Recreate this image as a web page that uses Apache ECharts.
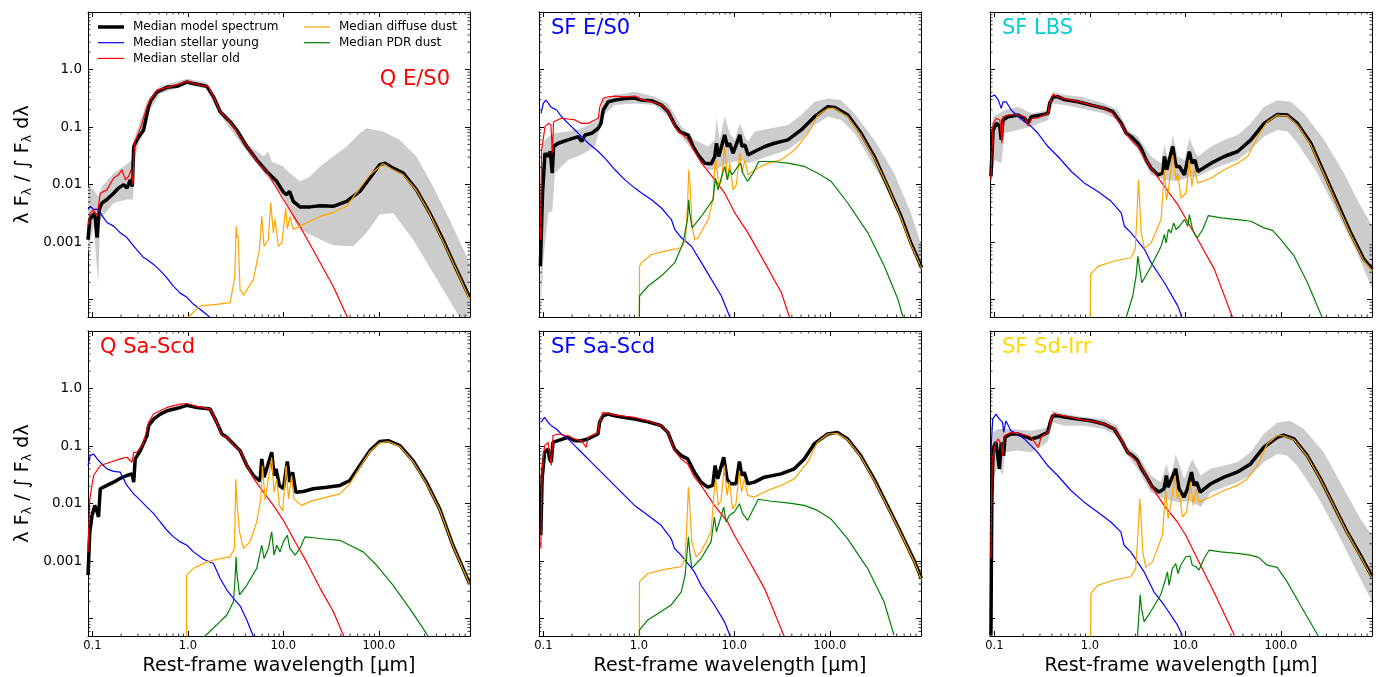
<!DOCTYPE html>
<html><head><meta charset="utf-8">
<script src="https://cdn.jsdelivr.net/npm/echarts@6/dist/echarts.min.js"></script>
<style>html,body{margin:0;padding:0;background:#fff}#c{width:1381px;height:677px}</style>
</head><body><div id="c"></div>
<script>
// ---------------- DATA (rest-frame wavelength [µm], λFλ / ∫Fλ dλ) ----------------
const panelTitles = ['Q E/S0', 'SF E/S0', 'SF LBS', 'Q Sa-Scd', 'SF Sa-Scd', 'SF Sd-Irr'];
const seriesNames = ['Median model spectrum', 'Median stellar young', 'Median stellar old', 'Median diffuse dust', 'Median PDR dust'];
const xTickVals = [0.1, 1, 10, 100];
const xTickText = ['0.1', '1.0', '10.0', '100.0'];
const yTickVals = [1, 0.1, 0.01, 0.001];
const yTickText = ['1.0', '0.1', '0.01', '0.001'];

// Panel 1: Q E/S0
const p1Model = [[0.090,0.0011],[0.094,0.0025],[0.0993,0.0028],[0.106,0.0032],[0.112,0.0012],[0.118,0.0037],[0.126,0.0048],[0.142,0.0055],[0.167,0.0071],[0.188,0.0087],[0.213,0.0100],[0.230,0.0087],[0.250,0.0121],[0.262,0.0093],[0.271,0.046],[0.293,0.060],[0.344,0.089],[0.388,0.226],[0.411,0.294],[0.475,0.41],[0.604,0.49],[0.768,0.51],[0.977,0.61],[1.146,0.57],[1.58,0.51],[1.855,0.336],[2.18,0.185],[2.36,0.162],[2.77,0.124],[3.25,0.089],[4.14,0.046],[5.26,0.027],[6.69,0.0169],[8.52,0.0114],[10,0.0074],[10.8,0.0067],[11.6,0.0076],[12.7,0.0051],[14.9,0.0041],[19.0,0.0041],[24.2,0.0043],[33.3,0.0042],[45.9,0.0051],[63.2,0.0076],[80.5,0.013],[102,0.0221],[116,0.0236],[141,0.0193],[180,0.0158],[248,0.0081],[341,0.0032],[469,0.0011],[647,0.00034],[890,0.00011]];
const p1Young = [[0.090,0.0037],[0.095,0.0042],[0.103,0.0037],[0.112,0.0037],[0.121,0.0032],[0.142,0.0022],[0.167,0.0019],[0.196,0.00145],[0.230,0.0012],[0.271,0.00085],[0.344,0.00054],[0.373,0.0005],[0.438,0.00041],[0.514,0.00032],[0.604,0.00024],[0.708,0.00017],[0.832,0.00013],[0.977,0.00011],[1.146,0.000083],[1.345,0.000068],[1.71,0.000049]];
const p1Old = [[0.090,0.0019],[0.095,0.0032],[0.103,0.0037],[0.112,0.0028],[0.121,0.0071],[0.142,0.0081],[0.167,0.0130],[0.188,0.0148],[0.204,0.0181],[0.222,0.0121],[0.240,0.0139],[0.254,0.0181],[0.266,0.0100],[0.275,0.052],[0.293,0.068],[0.318,0.095],[0.373,0.226],[0.404,0.294],[0.475,0.44],[0.604,0.49],[0.832,0.57],[0.977,0.63],[1.345,0.53],[1.64,0.51],[1.855,0.336],[2.18,0.185],[2.56,0.142],[3.0,0.102],[4.14,0.046],[5.70,0.0216],[6.69,0.0169],[10,0.0055],[14.9,0.0019],[22.3,0.00057],[33.3,0.00017],[47.8,0.000046]];
const p1Diffuse = [[1.0,1e-6],[1.016,0.00005],[1.345,0.000078],[2.01,0.000083],[2.77,0.000089],[3.1,0.00025],[3.2,0.0019],[3.28,0.0012],[3.35,0.0013],[3.52,0.000151],[3.82,0.00012],[4.86,0.000225],[5.61,0.00075],[5.94,0.0028],[6.28,0.00085],[6.97,0.0011],[7.37,0.0049],[7.86,0.00145],[8.18,0.0025],[8.86,0.00085],[9.65,0.00097],[10.6,0.0039],[11.0,0.0017],[11.7,0.0028],[12.7,0.00166],[14.9,0.0019],[19.0,0.0023],[24.2,0.0028],[33.3,0.0033],[45.9,0.0042],[63.2,0.0087],[80.5,0.0148],[111,0.0231],[141,0.0181],[180,0.0148],[248,0.0079],[341,0.0031],[469,0.00104],[647,0.00033],[890,0.000102]];
const p1Pdr = [];
const p1BandHi = [[0.090,0.0093],[0.103,0.0081],[0.115,0.0063],[0.126,0.0093],[0.167,0.0158],[0.213,0.0207],[0.260,0.027],[0.271,0.060],[0.373,0.275],[0.514,0.51],[0.977,0.69],[1.58,0.59],[2.18,0.211],[4.14,0.052],[6.18,0.031],[6.97,0.0376],[7.55,0.025],[10,0.0207],[11.7,0.0158],[14.9,0.0114],[19,0.0139],[24.2,0.0207],[33.3,0.0308],[45.9,0.0459],[63.2,0.078],[74.1,0.0953],[111,0.0834],[166,0.0598],[248,0.0308],[370,0.0093],[549,0.00247],[890,0.00044]];
const p1BandLo = [[0.090,0.00065],[0.103,0.0019],[0.115,0.000197],[0.121,0.00247],[0.167,0.0048],[0.230,0.0055],[0.266,0.0055],[0.281,0.0308],[0.373,0.162],[0.514,0.384],[0.977,0.536],[1.58,0.469],[2.18,0.162],[4.14,0.0376],[6.69,0.0139],[10,0.00625],[12.7,0.00247],[14.9,0.00166],[24.2,0.00111],[33.3,0.00088],[53.9,0.00085],[74.1,0.00145],[102,0.00301],[141,0.00322],[228,0.00111],[370,0.00029],[596,0.000078],[703,0.000049],[890,0.00001]];

// Panel 2: SF E/S0
const p2Model = [[0.093,0.00038],[0.098,0.0071],[0.104,0.0352],[0.110,0.0308],[0.118,0.0376],[0.124,0.0158],[0.128,0.0459],[0.143,0.0524],[0.182,0.0598],[0.232,0.0683],[0.252,0.056],[0.273,0.073],[0.320,0.078],[0.376,0.0953],[0.401,0.116],[0.424,0.198],[0.478,0.275],[0.562,0.294],[0.714,0.315],[0.908,0.32],[1.066,0.294],[1.356,0.287],[1.725,0.241],[2.026,0.185],[2.378,0.109],[2.68,0.0834],[2.9,0.078],[3.28,0.073],[3.7,0.0459],[4.17,0.0329],[4.89,0.0236],[5.75,0.023],[6.23,0.0308],[6.49,0.0524],[6.86,0.0308],[7.92,0.073],[8.45,0.0459],[8.93,0.0524],[9.7,0.0352],[11.4,0.073],[12.0,0.0459],[12.9,0.049],[13.9,0.0329],[16.3,0.0376],[20.8,0.0459],[26.3,0.0524],[36.4,0.0598],[50.1,0.0891],[69.0,0.151],[95.5,0.226],[112,0.22],[154,0.162],[212,0.078],[292,0.0308],[403,0.0093],[555,0.00282],[705,0.00097],[916,0.00036]];
const p2Young = [[0.0945,0.173],[0.1,0.258],[0.106,0.294],[0.113,0.258],[0.119,0.226],[0.127,0.211],[0.138,0.198],[0.155,0.151],[0.182,0.116],[0.214,0.0891],[0.252,0.0683],[0.295,0.0524],[0.376,0.0376],[0.441,0.0288],[0.562,0.0181],[0.714,0.0121],[0.908,0.0087],[1.066,0.00714],[1.356,0.00547],[1.725,0.00392],[2.19,0.00247],[2.378,0.00166],[2.79,0.00119],[3.55,0.00085],[4.52,0.00044],[5.75,0.000225],[7.31,0.000116],[8.93,0.000051]];
const p2Old = [[0.093,0.00111],[0.096,0.0402],[0.104,0.102],[0.113,0.116],[0.120,0.109],[0.124,0.0352],[0.128,0.124],[0.155,0.142],[0.182,0.138],[0.214,0.133],[0.252,0.116],[0.295,0.116],[0.347,0.133],[0.376,0.142],[0.39,0.226],[0.424,0.315],[0.478,0.336],[0.562,0.345],[0.714,0.336],[0.908,0.345],[1.066,0.30],[1.356,0.275],[1.725,0.241],[2.026,0.185],[2.378,0.102],[2.58,0.0834],[2.79,0.078],[3.28,0.0598],[3.85,0.0376],[4.52,0.0236],[5.31,0.0169],[6.23,0.0121],[7.92,0.00714],[10.1,0.00322],[13.9,0.00145],[20.8,0.00044],[31.0,0.000133],[37.9,0.000049]];
const p2Diffuse = [[1.0,1e-6],[1.016,0.00038],[1.066,0.00044],[1.356,0.00061],[1.87,0.0007],[2.79,0.0008],[3.07,0.00111],[3.23,0.00419],[3.33,0.0181],[3.44,0.0093],[3.61,0.00189],[3.85,0.00111],[4.17,0.00119],[5.31,0.00247],[5.98,0.00547],[6.23,0.0207],[6.43,0.0269],[6.86,0.0093],[7.31,0.0114],[7.92,0.0459],[8.45,0.0121],[8.93,0.0236],[9.7,0.0081],[10.5,0.00995],[11.4,0.0352],[12.0,0.0158],[12.9,0.0269],[13.9,0.0148],[16.3,0.0181],[22.5,0.0236],[31.0,0.0269],[42.9,0.0402],[58.9,0.078],[74.9,0.162],[95.5,0.211],[112,0.211],[154,0.151],[212,0.073],[292,0.0288],[403,0.0093],[555,0.00264],[705,0.00091],[916,0.00035]];
const p2Pdr = [[1.0,1e-6],[1.016,0.000116],[1.252,0.000173],[1.725,0.00026],[2.378,0.00044],[2.9,0.00097],[3.23,0.00247],[3.33,0.00547],[3.41,0.00322],[3.61,0.00177],[4.52,0.00282],[5.98,0.00547],[6.33,0.013],[6.75,0.0081],[7.19,0.0121],[7.92,0.0207],[8.45,0.0121],[8.93,0.0181],[9.46,0.0148],[10.9,0.0207],[11.6,0.0236],[12.3,0.0158],[13.7,0.0114],[15.7,0.0158],[18.0,0.0252],[24.4,0.0252],[36.4,0.0236],[54.3,0.0207],[74.9,0.0158],[103,0.0114],[154,0.00479],[250,0.00145],[372,0.00038],[516,0.000102],[580,0.000051]];
const p2BandHi = [[0.0945,0.0093],[0.1,0.0524],[0.104,0.0598],[0.127,0.078],[0.182,0.0834],[0.252,0.0953],[0.376,0.133],[0.424,0.294],[0.562,0.36],[0.908,0.41],[1.47,0.336],[2.026,0.258],[2.79,0.102],[3.85,0.0598],[5.31,0.0459],[6.23,0.0598],[6.49,0.142],[7.03,0.0598],[7.92,0.151],[8.93,0.078],[10.1,0.0598],[11.4,0.116],[12.9,0.0683],[13.9,0.056],[16.3,0.0834],[24.4,0.0953],[36.4,0.109],[50.1,0.162],[69,0.275],[95.5,0.315],[131,0.294],[181,0.173],[292,0.0598],[472,0.0158],[705,0.00322],[916,0.00085]];
const p2BandLo = [[0.093,0.000052],[0.1,0.0005],[0.113,0.00322],[0.124,0.00344],[0.132,0.0158],[0.182,0.0269],[0.252,0.0329],[0.347,0.0459],[0.424,0.162],[0.562,0.241],[0.908,0.258],[1.47,0.241],[2.026,0.151],[2.79,0.0683],[3.85,0.0352],[5.31,0.0181],[6.23,0.0181],[8.59,0.0236],[11.8,0.0269],[13.9,0.0236],[22.5,0.0308],[36.4,0.0402],[50.1,0.0598],[69,0.109],[95.5,0.151],[131,0.133],[181,0.078],[292,0.0207],[472,0.00547],[705,0.00127],[916,0.00026]];

// Panel 3: SF LBS
const p3Model = [[0.092,0.0139],[0.097,0.0891],[0.105,0.116],[0.114,0.102],[0.118,0.0598],[0.123,0.133],[0.139,0.151],[0.177,0.162],[0.207,0.142],[0.225,0.116],[0.244,0.151],[0.31,0.162],[0.364,0.173],[0.379,0.258],[0.411,0.336],[0.463,0.336],[0.544,0.30],[0.749,0.275],[1.032,0.241],[1.424,0.211],[1.739,0.185],[2.13,0.116],[2.4,0.078],[2.7,0.0683],[3.18,0.0524],[3.44,0.0429],[3.88,0.0269],[4.38,0.0193],[5.14,0.0148],[5.8,0.0158],[6.04,0.0308],[6.38,0.0181],[7.37,0.0459],[7.99,0.0207],[8.66,0.0207],[9.77,0.0148],[11.0,0.0376],[11.7,0.0236],[12.6,0.0269],[13.5,0.0169],[18.6,0.0236],[25.5,0.0308],[35.3,0.0376],[48.5,0.0598],[66.7,0.116],[92,0.166],[117,0.162],[149,0.116],[206,0.0524],[284,0.0158],[390,0.00479],[538,0.00145],[741,0.0005],[908,0.00034]];
const p3Young = [[0.092,0.336],[0.101,0.36],[0.11,0.294],[0.118,0.211],[0.123,0.275],[0.133,0.275],[0.15,0.198],[0.177,0.151],[0.207,0.124],[0.244,0.102],[0.286,0.078],[0.364,0.0459],[0.463,0.0308],[0.639,0.0169],[0.88,0.0106],[1.212,0.00762],[1.67,0.00512],[2.13,0.00322],[2.3,0.00189],[2.7,0.00145],[3.73,0.00075],[4.38,0.00044],[6.04,0.000197],[8.32,0.000078],[9.16,0.000051]];
const p3Old = [[0.092,0.0121],[0.097,0.116],[0.105,0.142],[0.114,0.133],[0.12,0.0524],[0.123,0.151],[0.139,0.162],[0.177,0.162],[0.207,0.151],[0.225,0.105],[0.244,0.142],[0.286,0.145],[0.364,0.173],[0.379,0.258],[0.411,0.37],[0.463,0.336],[0.544,0.31],[0.749,0.28],[1.032,0.241],[1.424,0.211],[1.739,0.173],[2.13,0.109],[2.4,0.078],[2.7,0.0598],[3.18,0.0459],[3.73,0.0288],[4.38,0.0193],[6.04,0.0093],[8.32,0.00448],[9.77,0.00282],[13.5,0.00111],[20.1,0.00034],[31.2,0.000049]];
const p3Diffuse = [[1.0,1e-6],[1.016,0.000275],[1.212,0.00038],[1.81,0.00047],[2.7,0.000535],[2.98,0.00075],[3.12,0.00322],[3.23,0.0121],[3.3,0.00625],[3.44,0.00145],[3.73,0.00078],[4.38,0.00097],[5.57,0.00247],[6.04,0.0181],[6.33,0.00547],[6.64,0.0081],[7.37,0.0329],[7.99,0.0121],[8.32,0.0158],[9.0,0.00585],[10.2,0.00714],[11.0,0.0269],[11.7,0.0093],[12.4,0.0181],[13.5,0.0106],[18.6,0.013],[25.5,0.0181],[35.3,0.0236],[44.9,0.0308],[57,0.0683],[72.4,0.124],[92,0.162],[117,0.157],[149,0.109],[206,0.049],[284,0.0148],[390,0.00448],[538,0.00136],[741,0.00047],[908,0.000315]];
const p3Pdr = [[2.3,0.00003],[2.4,0.000049],[2.81,0.000116],[3.05,0.00026],[3.18,0.00057],[3.25,0.00044],[3.33,0.00034],[3.5,0.000197],[4.38,0.00038],[5.57,0.00085],[6.04,0.00136],[6.28,0.00097],[6.64,0.00166],[7.08,0.00145],[7.55,0.00216],[7.99,0.00166],[8.66,0.00189],[9.77,0.00247],[10.6,0.00189],[11.0,0.00301],[11.9,0.00166],[13.3,0.00119],[15.2,0.00166],[17.4,0.0029],[23.6,0.00264],[35.3,0.00247],[48.5,0.00231],[66.7,0.00177],[81.8,0.0016],[100,0.00111],[138,0.00057],[190,0.000197],[262,0.000056],[272,0.000049]];
const p3BandHi = [[0.092,0.0524],[0.097,0.151],[0.128,0.198],[0.177,0.226],[0.244,0.173],[0.364,0.198],[0.411,0.41],[0.544,0.36],[0.812,0.336],[1.424,0.258],[1.96,0.198],[2.5,0.0891],[3.18,0.0683],[4.38,0.0308],[5.57,0.0236],[6.04,0.049],[6.64,0.0269],[7.37,0.073],[8.32,0.0308],[9.77,0.0269],[11.0,0.0639],[12.4,0.0402],[13.5,0.0308],[18.6,0.0459],[25.5,0.0598],[35.3,0.073],[48.5,0.116],[66.7,0.226],[92,0.294],[127,0.275],[175,0.173],[284,0.0598],[459,0.0158],[685,0.00419],[908,0.00189]];
const p3BandLo = [[0.092,0.0106],[0.101,0.0269],[0.118,0.0236],[0.128,0.078],[0.177,0.0891],[0.244,0.102],[0.364,0.133],[0.411,0.258],[0.544,0.241],[0.812,0.211],[1.424,0.173],[1.96,0.133],[2.5,0.0639],[3.18,0.0402],[4.38,0.0148],[6.04,0.0121],[8.32,0.0114],[11.5,0.0139],[13.5,0.0139],[18.6,0.0181],[25.5,0.0221],[35.3,0.0269],[48.5,0.0402],[66.7,0.0683],[92,0.0891],[117,0.0834],[149,0.0524],[241,0.0158],[390,0.00322],[630,0.00065],[908,0.000151]];

// Panel 4: Q Sa-Scd
const p4Model = [[0.090,0.00057],[0.094,0.00322],[0.0993,0.00625],[0.106,0.0093],[0.112,0.00714],[0.116,0.00585],[0.121,0.0181],[0.142,0.0207],[0.167,0.0236],[0.196,0.0275],[0.230,0.0308],[0.260,0.0329],[0.271,0.0236],[0.281,0.0598],[0.318,0.0834],[0.373,0.151],[0.388,0.226],[0.438,0.294],[0.514,0.36],[0.604,0.41],[0.832,0.469],[0.977,0.51],[1.242,0.469],[1.71,0.439],[2.01,0.258],[2.27,0.162],[2.56,0.142],[3.0,0.109],[3.52,0.0834],[4.14,0.0459],[4.86,0.0308],[5.70,0.0245],[5.94,0.0598],[6.28,0.0288],[7.55,0.078],[7.99,0.0308],[8.38,0.0402],[9.08,0.0207],[10,0.0181],[11.0,0.054],[11.7,0.0236],[12.5,0.0352],[13.5,0.0158],[16.2,0.0162],[20.6,0.0181],[28.4,0.0193],[39.1,0.0207],[49.7,0.0252],[63.2,0.0459],[80.5,0.0834],[102,0.12],[125,0.124],[166,0.102],[228,0.056],[314,0.0236],[433,0.0081],[596,0.00189],[890,0.00041]];
const p4Young = [[0.090,0.0459],[0.095,0.0683],[0.103,0.073],[0.112,0.0598],[0.121,0.0524],[0.142,0.0402],[0.167,0.0364],[0.196,0.0352],[0.230,0.0207],[0.271,0.0148],[0.318,0.0114],[0.373,0.0087],[0.438,0.00668],[0.514,0.00479],[0.604,0.00344],[0.708,0.00264],[0.832,0.00216],[0.977,0.00189],[1.146,0.00145],[1.458,0.00108],[1.855,0.00091],[2.18,0.0005],[2.56,0.000315],[3.0,0.000225],[3.52,0.000167],[4.14,0.000095],[4.86,0.000049]];
const p4Old = [[0.090,0.00145],[0.094,0.0121],[0.103,0.0308],[0.121,0.0459],[0.154,0.0524],[0.196,0.0598],[0.230,0.0639],[0.260,0.0524],[0.271,0.078],[0.293,0.078],[0.344,0.116],[0.388,0.258],[0.438,0.36],[0.514,0.41],[0.604,0.469],[0.832,0.536],[0.977,0.55],[1.242,0.49],[1.71,0.439],[2.01,0.258],[2.27,0.151],[2.56,0.142],[3.0,0.105],[3.52,0.0834],[4.14,0.0459],[4.86,0.0275],[6.18,0.0158],[7.86,0.0093],[10,0.00512],[12.7,0.00247],[17.5,0.00097],[24.2,0.00034],[33.3,0.000133],[43.1,0.000049]];
const p4Diffuse = [[0.965,1e-6],[0.97,0.00057],[1.146,0.00075],[1.58,0.00097],[2.18,0.00111],[2.77,0.00119],[3.07,0.00166],[3.18,0.0269],[3.25,0.0121],[3.47,0.00322],[3.82,0.00166],[4.48,0.00216],[5.26,0.00479],[5.8,0.0121],[6.04,0.0459],[6.43,0.0114],[7.55,0.0639],[7.99,0.0158],[8.52,0.0269],[9.08,0.0093],[9.84,0.0074],[10.7,0.0459],[11.3,0.0121],[12.2,0.0308],[12.9,0.0121],[15.5,0.0093],[20.6,0.0114],[28.4,0.013],[39.1,0.0148],[49.7,0.0221],[63.2,0.0429],[80.5,0.08],[102,0.113],[125,0.12],[166,0.098],[228,0.054],[314,0.0226],[433,0.0078],[596,0.00184],[890,0.0004]];
const p4Pdr = [[1.4,0.00004],[1.493,0.000049],[2.01,0.000078],[2.56,0.000116],[3.0,0.000197],[3.12,0.0005],[3.2,0.00119],[3.25,0.00065],[3.47,0.00026],[4.14,0.00038],[5.26,0.00075],[5.94,0.00189],[6.28,0.00111],[6.97,0.00166],[7.55,0.00322],[7.99,0.00127],[8.52,0.00189],[9.23,0.00145],[10,0.00216],[11.0,0.00282],[11.7,0.00166],[13.3,0.00127],[14.9,0.00166],[16.8,0.00264],[20.6,0.00255],[28.4,0.0024],[39.1,0.0023],[49.7,0.00189],[68.5,0.00145],[94.6,0.00085],[141,0.00038],[210,0.000151],[290,0.000068],[329,0.000049]];
const p4BandHi = [];
const p4BandLo = [];

// Panel 5: SF Sa-Scd
const p5Model = [[0.094,0.00282],[0.097,0.0269],[0.103,0.078],[0.112,0.0891],[0.116,0.0598],[0.121,0.0524],[0.126,0.116],[0.142,0.124],[0.181,0.142],[0.213,0.124],[0.25,0.124],[0.293,0.133],[0.373,0.162],[0.388,0.258],[0.42,0.336],[0.475,0.36],[0.557,0.336],[0.708,0.315],[0.901,0.294],[1.242,0.265],[1.71,0.226],[2.01,0.173],[2.36,0.0891],[2.77,0.0683],[3.25,0.0598],[3.82,0.0352],[4.48,0.0236],[5.26,0.0193],[5.94,0.0207],[6.28,0.0459],[6.69,0.0269],[7.74,0.0639],[8.38,0.0269],[9.08,0.0221],[10.4,0.0221],[11.3,0.054],[12.0,0.0308],[12.7,0.0352],[13.8,0.0221],[16.2,0.0236],[20.6,0.0288],[30.8,0.0329],[42.4,0.0402],[53.9,0.0598],[68.5,0.109],[94.6,0.162],[120,0.173],[153,0.133],[210,0.0683],[290,0.0269],[400,0.0093],[549,0.00322],[760,0.00104],[908,0.0005]];
const p5Young = [[0.094,0.258],[0.103,0.315],[0.112,0.258],[0.121,0.226],[0.137,0.198],[0.154,0.162],[0.181,0.133],[0.213,0.102],[0.25,0.078],[0.293,0.0598],[0.373,0.0402],[0.475,0.0269],[0.654,0.0158],[0.901,0.0093],[1.242,0.00625],[1.71,0.00419],[2.18,0.00247],[2.36,0.00166],[2.77,0.00127],[3.82,0.00065],[4.48,0.00038],[6.18,0.000173],[7.86,0.000089],[9.08,0.000049]];
const p5Old = [[0.094,0.00166],[0.097,0.0402],[0.103,0.102],[0.112,0.116],[0.121,0.0459],[0.126,0.151],[0.142,0.162],[0.181,0.151],[0.213,0.133],[0.25,0.124],[0.281,0.0953],[0.293,0.142],[0.373,0.173],[0.388,0.258],[0.42,0.384],[0.475,0.37],[0.557,0.345],[0.708,0.33],[0.901,0.315],[1.242,0.275],[1.71,0.226],[2.01,0.173],[2.36,0.0834],[2.77,0.0598],[3.25,0.049],[3.82,0.0288],[4.48,0.0207],[6.18,0.0093],[8.52,0.00479],[10,0.00282],[13.8,0.00111],[20.6,0.00034],[33.3,0.000049]];
const p5Diffuse = [[1.0,1e-6],[1.016,0.00044],[1.242,0.00061],[1.855,0.00072],[2.77,0.0008],[3.05,0.00111],[3.2,0.00547],[3.3,0.0193],[3.41,0.0093],[3.58,0.00216],[3.97,0.00119],[4.48,0.00145],[5.7,0.00322],[6.18,0.0181],[6.38,0.0269],[6.81,0.0093],[7.25,0.0114],[7.86,0.0459],[8.38,0.0139],[8.86,0.0236],[9.6,0.0081],[10.4,0.00995],[11.3,0.0376],[11.9,0.0158],[12.7,0.0269],[13.8,0.0139],[16.2,0.013],[22.3,0.0169],[30.8,0.0207],[42.4,0.0269],[58.5,0.0524],[74.1,0.116],[94.6,0.162],[120,0.166],[153,0.129],[210,0.0657],[290,0.0258],[400,0.0089],[549,0.0031],[760,0.001],[908,0.00048]];
const p5Pdr = [[1.0,1e-6],[1.016,0.000064],[1.242,0.000095],[1.71,0.000133],[2.18,0.000173],[2.77,0.00029],[3.05,0.00057],[3.2,0.00145],[3.3,0.00264],[3.41,0.00145],[3.58,0.00075],[4.48,0.00111],[5.7,0.00216],[6.18,0.00585],[6.49,0.00322],[6.97,0.00479],[7.74,0.0087],[8.18,0.00479],[8.86,0.00625],[10,0.00714],[11.3,0.00995],[12.2,0.00668],[13.8,0.00512],[15.5,0.00762],[17.8,0.0119],[24.2,0.011],[36.1,0.0103],[53.9,0.0093],[74.1,0.00762],[102,0.00547],[153,0.00247],[248,0.00075],[369,0.000197],[469,0.000052]];
const p5BandHi = [];
const p5BandLo = [];

// Panel 6: SF Sd-Irr
const p6Model = [[0.092,0.000051],[0.094,0.0106],[0.097,0.0891],[0.1,0.102],[0.104,0.116],[0.109,0.124],[0.113,0.04],[0.118,0.116],[0.125,0.0683],[0.129,0.142],[0.149,0.162],[0.175,0.162],[0.223,0.142],[0.242,0.133],[0.284,0.142],[0.361,0.173],[0.385,0.258],[0.407,0.336],[0.459,0.336],[0.539,0.32],[0.743,0.294],[1.024,0.275],[1.412,0.241],[1.796,0.198],[2.19,0.116],[2.48,0.078],[2.79,0.0683],[3.15,0.056],[3.41,0.0429],[3.85,0.0308],[4.52,0.0193],[5.31,0.0158],[5.98,0.0181],[6.33,0.0308],[6.59,0.0193],[7.92,0.0402],[8.59,0.0181],[9.69,0.013],[10.5,0.0181],[11.6,0.0352],[12.3,0.0207],[13.1,0.0236],[14.3,0.0158],[18.4,0.0221],[25.4,0.0288],[34.9,0.0352],[48.1,0.049],[66.2,0.0953],[91.5,0.142],[107,0.155],[137,0.133],[189,0.0683],[260,0.0269],[358,0.0093],[494,0.00322],[680,0.00127],[900,0.000535]];
const p6Young = [[0.092,0.078],[0.096,0.294],[0.104,0.36],[0.113,0.294],[0.122,0.258],[0.125,0.173],[0.132,0.275],[0.149,0.185],[0.175,0.162],[0.206,0.133],[0.242,0.102],[0.284,0.078],[0.361,0.0459],[0.459,0.0308],[0.633,0.0169],[0.872,0.0106],[1.203,0.00714],[1.658,0.00479],[2.11,0.00322],[2.28,0.00189],[2.68,0.00145],[3.7,0.00065],[4.7,0.00029],[5.98,0.000173],[8.25,0.000078],[9.31,0.000051]];
const p6Old = [[0.092,0.00111],[0.095,0.0598],[0.1,0.0891],[0.104,0.116],[0.109,0.133],[0.118,0.109],[0.122,0.0683],[0.127,0.151],[0.149,0.173],[0.19,0.162],[0.223,0.151],[0.242,0.142],[0.289,0.0953],[0.308,0.142],[0.376,0.185],[0.391,0.294],[0.424,0.37],[0.459,0.35],[0.539,0.336],[0.743,0.294],[1.024,0.275],[1.412,0.241],[1.796,0.198],[2.19,0.116],[2.48,0.078],[2.79,0.0639],[3.15,0.0524],[3.7,0.0352],[4.34,0.0207],[5.98,0.0093],[8.25,0.00479],[10.1,0.00282],[13.3,0.00111],[19.9,0.00029],[32.7,0.000051]];
const p6Diffuse = [[1.008,1e-6],[1.024,0.000275],[1.203,0.00038],[1.796,0.00047],[2.68,0.000535],[3.02,0.00075],[3.2,0.00322],[3.33,0.0121],[3.44,0.00547],[3.58,0.00145],[3.85,0.00078],[4.52,0.00097],[5.75,0.00282],[6.23,0.0169],[6.59,0.00547],[6.92,0.0081],[7.8,0.0308],[8.25,0.0121],[8.66,0.0158],[9.31,0.00585],[10.3,0.00714],[11.3,0.0236],[12.1,0.0093],[12.9,0.0181],[13.9,0.0106],[18.4,0.013],[25.4,0.0169],[34.9,0.0207],[44.4,0.0269],[56.6,0.0459],[71.9,0.109],[91.5,0.151],[107,0.151],[137,0.129],[189,0.066],[260,0.0262],[358,0.0091],[494,0.0031],[680,0.00122],[900,0.00051]];
const p6Pdr = [[3.1,0.00003],[3.15,0.000049],[3.28,0.000133],[3.36,0.00026],[3.47,0.000151],[3.7,0.000089],[4.34,0.000133],[5.52,0.00026],[6.23,0.0005],[6.49,0.00065],[6.75,0.00038],[7.31,0.00075],[7.92,0.00091],[8.38,0.00061],[8.93,0.00085],[10.1,0.00119],[11.2,0.00123],[11.8,0.00085],[12.9,0.0008],[13.9,0.0007],[15.7,0.00111],[17.7,0.00155],[23.4,0.00145],[34.9,0.00136],[48.1,0.00127],[58.9,0.00115],[71.9,0.00085],[91.5,0.00078],[116,0.00044],[160,0.000173],[221,0.000068],[248,0.000049]];
const p6BandHi = [[0.092,0.078],[0.097,0.173],[0.109,0.198],[0.149,0.198],[0.242,0.185],[0.361,0.211],[0.407,0.41],[0.539,0.36],[0.872,0.32],[1.412,0.294],[1.945,0.226],[2.48,0.0953],[3.15,0.073],[4.34,0.0308],[5.52,0.0236],[6.33,0.049],[7.03,0.0269],[7.92,0.073],[9.69,0.0269],[11.8,0.0598],[14.5,0.0308],[18.4,0.0402],[25.4,0.0459],[34.9,0.0524],[48.1,0.078],[66.2,0.162],[91.5,0.258],[126,0.275],[174,0.198],[281,0.078],[456,0.0181],[680,0.00547],[900,0.00282]];
const p6BandLo = [[0.092,0.000052],[0.097,0.0269],[0.109,0.0459],[0.122,0.0308],[0.129,0.078],[0.175,0.0834],[0.242,0.078],[0.361,0.116],[0.407,0.258],[0.539,0.226],[0.872,0.226],[1.412,0.198],[1.945,0.151],[2.48,0.0683],[3.15,0.0402],[4.34,0.0158],[5.98,0.0121],[8.25,0.0106],[11.3,0.0111],[14.5,0.0087],[18.4,0.0158],[25.4,0.0193],[34.9,0.0236],[48.1,0.0308],[66.2,0.0524],[91.5,0.073],[116,0.0683],[148,0.0459],[239,0.0139],[387,0.00322],[626,0.00065],[900,0.000197]];

// ---------------- STYLE / LAYOUT ----------------
const panelData = [
  [p1Model, p1Young, p1Old, p1Diffuse, p1Pdr, p1BandHi, p1BandLo],
  [p2Model, p2Young, p2Old, p2Diffuse, p2Pdr, p2BandHi, p2BandLo],
  [p3Model, p3Young, p3Old, p3Diffuse, p3Pdr, p3BandHi, p3BandLo],
  [p4Model, p4Young, p4Old, p4Diffuse, p4Pdr, p4BandHi, p4BandLo],
  [p5Model, p5Young, p5Old, p5Diffuse, p5Pdr, p5BandHi, p5BandLo],
  [p6Model, p6Young, p6Old, p6Diffuse, p6Pdr, p6BandHi, p6BandLo]
];
const FONT = 'DejaVu Sans';
const lineColors = ['#000000', '#0000ff', '#ff0000', '#ffa500', '#008000'];
const lineWidths = [3.5, 1.2, 1.2, 1.2, 1.2];
const titleColors = ['#ff0000', '#0000ff', '#00ced1', '#ff0000', '#0000ff', '#ffd700'];
const titlePos = [
  {x: 450, y: 80, align: 'right'}, {x: 551, y: 29, align: 'left'}, {x: 1002, y: 29, align: 'left'},
  {x: 100, y: 348, align: 'left'}, {x: 551, y: 348, align: 'left'}, {x: 1002, y: 348, align: 'left'}
];
const gridLefts = [88, 539, 990];
const gridTops = [12, 331];
const gridHeights = [305, 306];
const gridWidth = 382;
const X_MIN = 0.09, X_MAX = 900, Y_MIN = 5e-5, Y_MAX = 10;

// minor tick positions (log-axis minor ticks at 2..9 x 10^k)
const xMinor = [], yMinor = [];
for (let e = -2; e <= 3; e++) for (let k = 2; k <= 9; k++) {
  const v = k * Math.pow(10, e);
  if (v > X_MIN * 1.001 && v < X_MAX * 0.999) xMinor.push(v);
}
for (let e = -5; e <= 1; e++) for (let k = 2; k <= 9; k++) {
  const v = k * Math.pow(10, e);
  if (v > Y_MIN * 1.001 && v < Y_MAX * 0.999) yMinor.push(v);
}

function makeFmt(vals, texts) {
  return function (v) {
    for (let k = 0; k < vals.length; k++) {
      if (Math.abs(v - vals[k]) <= vals[k] * 1e-6) return texts[k];
    }
    return '';
  };
}
const xFmt = makeFmt(xTickVals, xTickText);
const yFmt = makeFmt(yTickVals, yTickText);

const grids = [], xAxes = [], yAxes = [], series = [];
const axisLineStyle = {show: true, lineStyle: {color: '#000', width: 1}};
const tickStyle = {show: true, inside: true, length: 5, lineStyle: {color: '#000', width: 1}};

for (let i = 0; i < 6; i++) {
  const col = i % 3, row = Math.floor(i / 3);
  const isBottom = row === 1, isLeft = col === 0;
  grids.push({left: gridLefts[col], top: gridTops[row], width: gridWidth, height: gridHeights[row]});
  const xBase = {type: 'log', logBase: 10, gridIndex: i, min: X_MIN, max: X_MAX, splitNumber: 5,
    axisLine: axisLineStyle, axisTick: tickStyle, splitLine: {show: false}};
  const yBase = {type: 'log', logBase: 10, gridIndex: i, min: Y_MIN, max: Y_MAX, splitNumber: 5,
    axisLine: axisLineStyle, axisTick: tickStyle, splitLine: {show: false}};
  xAxes.push(Object.assign({}, xBase, {
    position: 'bottom',
    axisLabel: {show: isBottom, formatter: xFmt, color: '#000', fontSize: 11.5, fontFamily: FONT, margin: 4,
      showMinLabel: true, showMaxLabel: true},
    name: isBottom ? 'Rest-frame wavelength [µm]' : '',
    nameLocation: 'middle', nameGap: 21,
    nameTextStyle: {fontSize: 19, fontFamily: FONT, color: '#000'}
  }));
  xAxes.push(Object.assign({}, xBase, {position: 'top', axisLabel: {show: false}}));
  yAxes.push(Object.assign({}, yBase, {
    position: 'left',
    axisLabel: {show: isLeft, formatter: yFmt, color: '#000', fontSize: 13.5, fontFamily: FONT, margin: 6},
    name: isLeft ? '{a|λ F}{b|λ}{a| / ∫ F}{b|λ}{a| dλ}' : '',
    nameLocation: 'middle', nameGap: 54, nameRotate: 90,
    nameTextStyle: {color: '#000', fontFamily: FONT, rich: {
      a: {fontSize: 19, fontFamily: FONT, color: '#000'},
      b: {fontSize: 13, fontFamily: FONT, color: '#000', verticalAlign: 'bottom', padding: [8, 0, 0, 0]}
    }}
  }));
  yAxes.push(Object.assign({}, yBase, {position: 'right', axisLabel: {show: false}}));

  const xi = 2 * i, yi = 2 * i;
  const d = panelData[i];
  const hi = d[5], lo = d[6];
  if (hi.length) {
    series.push({
      type: 'custom', xAxisIndex: xi, yAxisIndex: yi, silent: true, clip: true, z: 1,
      data: [[1, 0.01]],
      renderItem: function (params, api) {
        const pts = hi.map(p => api.coord(p)).concat(lo.slice().reverse().map(p => api.coord(p)));
        return {type: 'polygon', shape: {points: pts}, style: {fill: '#cccccc', stroke: null}};
      }
    });
  }
  for (let s = 0; s < 5; s++) {
    if (!d[s].length) continue;
    series.push({
      type: 'line', name: seriesNames[s], xAxisIndex: xi, yAxisIndex: yi,
      data: d[s], showSymbol: false, symbol: 'none', smooth: false, clip: true, z: 2 + (s === 0 ? 0 : 1),
      lineStyle: {color: lineColors[s], width: lineWidths[s]},
      itemStyle: {color: lineColors[s]},
      silent: true
    });
  }
  // minor ticks on all four sides
  series.push({
    type: 'custom', xAxisIndex: xi, yAxisIndex: yi, silent: true, clip: false, z: 5,
    data: [[1, 0.01]],
    renderItem: function (params, api) {
      const cs = params.coordSys;
      const L = cs.x, T = cs.y, R = cs.x + cs.width, B = cs.y + cs.height;
      const st = {stroke: '#000', lineWidth: 0.8};
      const ch = [];
      xMinor.forEach(v => {
        const px = api.coord([v, 1])[0];
        ch.push({type: 'line', shape: {x1: px, y1: B, x2: px, y2: B - 2.5}, style: st});
        ch.push({type: 'line', shape: {x1: px, y1: T, x2: px, y2: T + 2.5}, style: st});
      });
      yMinor.forEach(v => {
        const py = api.coord([1, v])[1];
        ch.push({type: 'line', shape: {x1: L, y1: py, x2: L + 2.5, y2: py}, style: st});
        ch.push({type: 'line', shape: {x1: R, y1: py, x2: R - 2.5, y2: py}, style: st});
      });
      return {type: 'group', children: ch};
    }
  });
}

const thickIcon = 'path://M0,0H26V3.5H0Z';
const thinIcon = 'path://M0,0H26V1.2H0Z';
const legendBase = {orient: 'vertical', itemGap: 3.7, itemWidth: 26, itemHeight: 14, padding: 0,
  selectedMode: false, textStyle: {fontSize: 12, fontFamily: FONT, color: '#000', padding: [0, 0, 0, 4]}};

const chart = echarts.init(document.getElementById('c'), null, {renderer: 'canvas'});
chart.setOption({
  animation: false,
  backgroundColor: '#fff',
  grid: grids,
  xAxis: xAxes,
  yAxis: yAxes,
  legend: [
    Object.assign({}, legendBase, {left: 98, top: 21, data: [
      {name: seriesNames[0], icon: thickIcon, itemStyle: {color: lineColors[0]}},
      {name: seriesNames[1], icon: thinIcon, itemStyle: {color: lineColors[1]}},
      {name: seriesNames[2], icon: thinIcon, itemStyle: {color: lineColors[2]}}
    ]}),
    Object.assign({}, legendBase, {left: 304, top: 21, data: [
      {name: seriesNames[3], icon: thinIcon, itemStyle: {color: lineColors[3]}},
      {name: seriesNames[4], icon: thinIcon, itemStyle: {color: lineColors[4]}}
    ]})
  ],
  graphic: panelTitles.map((t, i) => ({
    type: 'text', x: titlePos[i].x, y: titlePos[i].y, z: 10, silent: true,
    style: {text: t, fill: titleColors[i], font: '21px "DejaVu Sans"', align: titlePos[i].align, verticalAlign: 'middle'}
  })),
  series: series
});
</script></body></html>
